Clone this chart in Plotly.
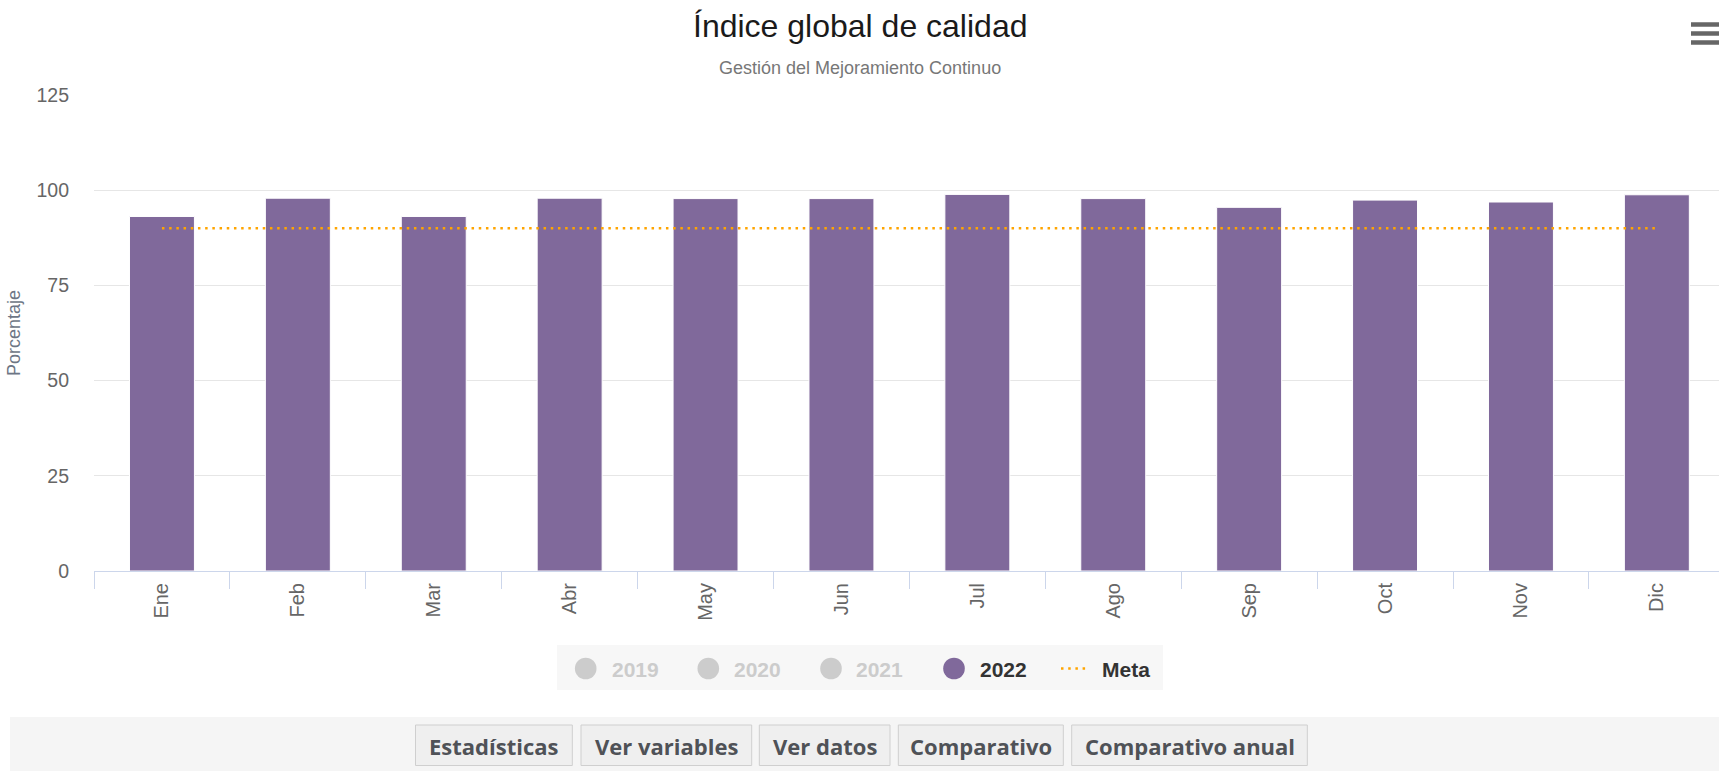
import plotly.graph_objects as go

# ---------------- data ----------------
months = ["Ene", "Feb", "Mar", "Abr", "May", "Jun", "Jul", "Ago", "Sep", "Oct", "Nov", "Dic"]
values_2022 = [93.1, 97.9, 93.1, 97.9, 97.8, 97.8, 98.9, 97.8, 95.5, 97.4, 96.9, 98.8]
meta = [90, 90, 90, 90, 90, 90, 90, 90, 90, 90, 90, 90]
y_ticks = [0, 25, 50, 75, 100, 125]
legend_labels = ["2019", "2020", "2021", "2022", "Meta"]
legend_active = [False, False, False, True, True]
button_labels = ["Estadísticas", "Ver variables", "Ver datos", "Comparativo", "Comparativo anual"]
title_text = "Índice global de calidad"
subtitle_text = "Gestión del Mejoramiento Continuo"
y_title = "Porcentaje"

# ---------------- geometry ----------------
W, H = 1719, 771
ML, MT, MB, MR = 94, 95, 200, 0
PW = W - ML - MR
PH = H - MT - MB
CAT_W = 135.9


def xp(px):
    return (px - ML) / PW


def yp(py):
    return (H - MB - py) / PH


BAR_COLOR = "#80699B"
META_COLOR = "#FFA500"
FONT = "Liberation Sans, Arial, sans-serif"

fig = go.Figure()
fig.add_trace(go.Bar(
    x=months, y=values_2022, name="2022", width=0.478,
    marker=dict(color=BAR_COLOR, line=dict(color="#ffffff", width=1)),
    showlegend=False,
))
fig.add_trace(go.Scatter(
    x=months, y=meta, name="Meta", mode="lines",
    line=dict(color=META_COLOR, width=2.5, dash="2.5px,4.7px"),
    showlegend=False,
))

shapes = []
annotations = []

# title / subtitle
annotations.append(dict(xref="paper", yref="paper", x=xp(W / 2), y=yp(26), text=title_text,
                        showarrow=False, xanchor="center", yanchor="middle",
                        font=dict(family=FONT, size=32, color="#1a1a1a")))
annotations.append(dict(xref="paper", yref="paper", x=xp(W / 2), y=yp(68), text=subtitle_text,
                        showarrow=False, xanchor="center", yanchor="middle",
                        font=dict(family=FONT, size=18, color="#777777")))
# y-axis title (partly clipped at the left edge)
annotations.append(dict(xref="paper", yref="paper", x=xp(14), y=yp(333), text=y_title,
                        showarrow=False, xanchor="center", yanchor="middle", textangle=-90,
                        font=dict(family=FONT, size=18, color="#6d7685")))

# hamburger menu icon
for yy in (24.5, 33.5, 42.5):
    shapes.append(dict(type="line", xref="paper", yref="paper", x0=xp(1691), x1=xp(1730),
                       y0=yp(yy), y1=yp(yy), line=dict(color="#666666", width=4.5)))

# legend box
shapes.append(dict(type="rect", xref="paper", yref="paper", x0=xp(557), x1=xp(1163),
                   y0=yp(645), y1=yp(690), fillcolor="#f7f7f7", line=dict(width=0), layer="below"))
marker_cx = [585.7, 708.3, 831.0, 954.0]
text_x = [610, 732.3, 854, 977.7, 1100]
LEG_Y = 668.5
for i, lab in enumerate(legend_labels):
    col = "#333333" if legend_active[i] else "#cccccc"
    if lab == "Meta":
        shapes.append(dict(type="line", xref="paper", yref="paper", x0=xp(1061), x1=xp(1089),
                           y0=yp(LEG_Y), y1=yp(LEG_Y),
                           line=dict(color=META_COLOR, width=2.5, dash="2.5px,4.7px")))
    else:
        mcol = BAR_COLOR if legend_active[i] else "#cccccc"
        r = 10.8
        shapes.append(dict(type="circle", xref="paper", yref="paper",
                           x0=xp(marker_cx[i] - r), x1=xp(marker_cx[i] + r),
                           y0=yp(LEG_Y + r), y1=yp(LEG_Y - r),
                           fillcolor=mcol, line=dict(width=0)))
    annotations.append(dict(xref="paper", yref="paper", x=xp(text_x[i]), y=yp(LEG_Y + 1), text="<b>%s</b>" % lab,
                            showarrow=False, xanchor="left", yanchor="middle",
                            font=dict(family=FONT, size=21, color=col)))

# buttons bar
shapes.append(dict(type="rect", xref="paper", yref="paper", x0=xp(10), x1=xp(1730),
                   y0=yp(717), y1=yp(780), fillcolor="#f5f5f5", line=dict(width=0), layer="below"))
btn_x = [(415.5, 572.3), (581, 751.7), (759.3, 890), (898.3, 1063.3), (1071.7, 1307.3)]
for (x0, x1), lab in zip(btn_x, button_labels):
    shapes.append(dict(type="rect", xref="paper", yref="paper", x0=xp(x0), x1=xp(x1),
                       y0=yp(725), y1=yp(765.5), fillcolor="#efefef",
                       line=dict(color="#cfcfcf", width=1), layer="below"))
    annotations.append(dict(xref="paper", yref="paper", x=xp((x0 + x1) / 2), y=yp(745.5),
                            text="<b>%s</b>" % lab, showarrow=False, xanchor="center", yanchor="middle",
                            font=dict(family="Open Sans, sans-serif", size=22, color="#4f5257")))

fig.update_layout(
    width=W, height=H, autosize=False,
    margin=dict(l=ML, r=MR, t=MT, b=MB, pad=0),
    paper_bgcolor="#ffffff", plot_bgcolor="#ffffff",
    shapes=shapes, annotations=annotations,
    showlegend=False, bargap=0.5,
    xaxis=dict(
        type="category", range=[-0.5, -0.5 + PW / CAT_W],
        showline=True, linecolor="#ccd6eb", linewidth=1,
        ticks="outside", tickson="boundaries", ticklen=17, tickcolor="#ccd6eb", tickwidth=1,
        tickangle=-90, tickfont=dict(family=FONT, size=20, color="#666666"),
        showgrid=False, zeroline=False, ticklabelstandoff=3,
    ),
    yaxis=dict(
        range=[0, 125], tickvals=y_ticks, ticktext=[str(v) for v in y_ticks],
        showgrid=True, gridcolor="#e6e6e6", gridwidth=1,
        zeroline=False, showline=False, ticks="",
        tickfont=dict(family=FONT, size=19.5, color="#666666"), ticklabelstandoff=24,
    ),
)

fig.write_html("out.html", config={"displayModeBar": False},
               post_script="document.body.style.margin='0';document.body.style.overflow='hidden';")
